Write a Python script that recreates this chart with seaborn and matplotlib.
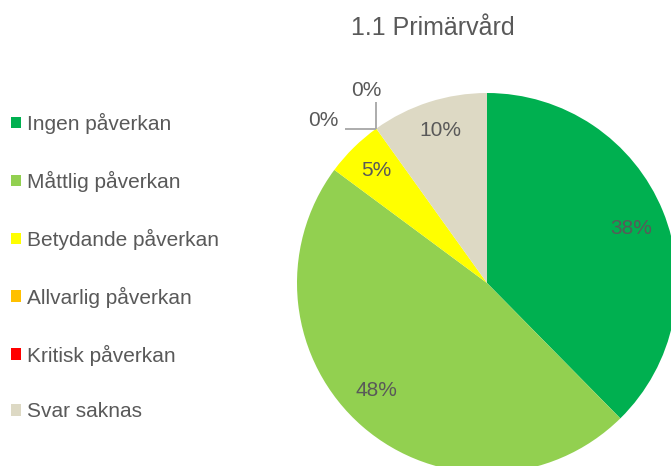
import numpy as np
import seaborn as sns
import matplotlib.pyplot as plt
from matplotlib.patches import Patch

# data
categories = ['Ingen påverkan', 'Måttlig påverkan', 'Betydande påverkan',
              'Allvarlig påverkan', 'Kritisk påverkan', 'Svar saknas']
shares = [38, 48, 5, 0, 0, 10]
colors = ['#00B050', '#92D050', '#FFFF00', '#FFC000', '#FF0000', '#DDD9C4']
title = '1.1 Primärvård'

sns.set_theme(style='white')
plt.rcParams['font.family'] = ['Liberation Sans', 'DejaVu Sans']
txt = '#595959'

fig = plt.figure(figsize=(6.71, 4.66), dpi=100)
ax = fig.add_axes([0, 0, 1, 1])

# pie centre / radius in pixel units of the figure
cx, cy, r = 487, 183, 190
ax.pie(shares, colors=colors, startangle=90, counterclock=False,
       center=(cx, cy), radius=r, wedgeprops=dict(linewidth=0))
ax.set_xlim(0, 671)
ax.set_ylim(0, 466)
ax.set_aspect('equal')
ax.axis('off')

# percentage labels
label_pos = [(631, 237), (376, 75), (376, 296), (323, 346), (366, 375), (440, 336)]
for v, (x, y) in zip(shares, label_pos):
    ax.text(x, y, f'{v}%', ha='center', va='center', fontsize=15, color=txt)

# leader lines for the 0% slices
frac = sum(shares[:3]) / sum(shares)
ang = np.deg2rad(90 - 360 * frac)
px, py = cx + r * np.cos(ang), cy + r * np.sin(ang)
ax.plot([px, px], [py, 364], color='#A6A6A6', lw=1.3, solid_capstyle='butt')
ax.plot([345, px], [py, py], color='#A6A6A6', lw=1.3, solid_capstyle='butt')

fig.text(433, 466 - 28, title, transform=None, ha='center', va='center',
         fontsize=18, color=txt)

handles = [Patch(facecolor=c, edgecolor='none') for c in colors]
leg = ax.legend(handles, categories, loc='upper left', bbox_to_anchor=(0.017, 0.758),
                frameon=False, fontsize=15, labelcolor=txt, handlelength=0.48,
                handleheight=0.48, handletextpad=0.25, labelspacing=1.77,
                borderaxespad=0, borderpad=0)

fig.savefig('out.png', dpi=100)
